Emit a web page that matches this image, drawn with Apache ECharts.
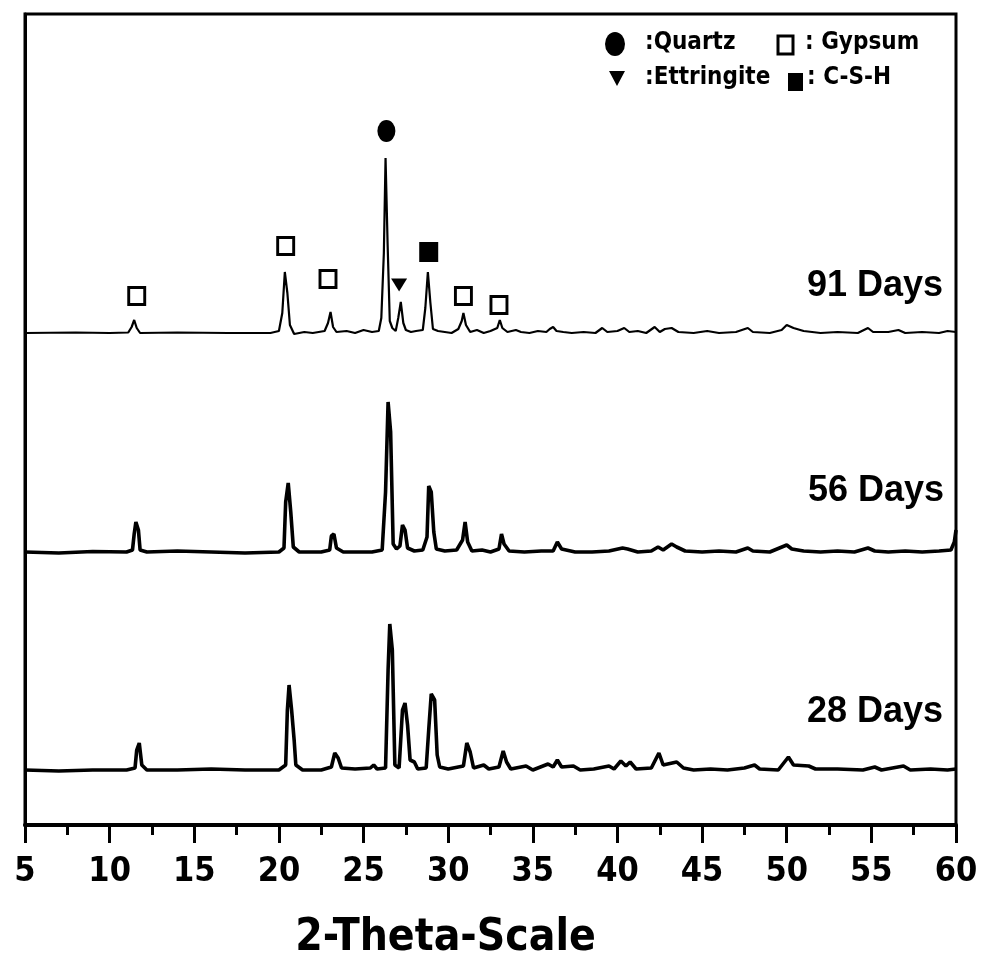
<!DOCTYPE html>
<html>
<head>
<meta charset="utf-8">
<script src="https://cdn.jsdelivr.net/npm/echarts@6/dist/echarts.min.js"></script>
<style>html,body{margin:0;padding:0;background:#fff}#c{width:981px;height:962px}</style>
</head>
<body>
<div id="c"></div>
<script>
// ---- data: [2-theta, intensity above own baseline (a.u.)] ----
const seriesNames = ['91 Days', '56 Days', '28 Days'];
const offsets = [492, 273, 55]; // vertical stacking offset of each pattern

const days91 = [[5,0],[8,0.5],[10,0],[11.1,0.5],[11.3,6],[11.45,13],[11.6,5],[11.8,0],[14,0.5],[17,0],[19.5,0],[20.0,2],[20.2,20],[20.35,61],[20.5,40],[20.65,8],[20.9,-1],[21.5,1],[22,0],[22.7,2],[22.9,10],[23.05,21],[23.2,6],[23.4,1],[24,2],[24.5,0],[25,3],[25.5,1],[25.9,2],[26.05,15],[26.2,80],[26.3,175],[26.42,90],[26.55,12],[26.7,5],[26.9,2],[27.05,15],[27.2,31],[27.35,10],[27.5,3],[27.8,1],[28.1,2],[28.5,3],[28.65,25],[28.8,61],[28.95,30],[29.1,4],[29.4,2],[29.8,1],[30.2,0],[30.6,4],[30.8,12],[30.9,20],[31.05,8],[31.3,1],[31.7,3],[32.1,0],[32.5,2],[32.9,5],[33.05,13],[33.2,5],[33.5,1],[34.0,3],[34.3,1],[34.8,0],[35.3,2],[35.8,1],[36.0,4],[36.2,6],[36.4,2],[36.8,1],[37.3,0],[38,1],[38.7,0],[39.1,5],[39.4,1],[40,2],[40.4,5],[40.7,1],[41.2,2],[41.7,0],[42.2,6],[42.5,1],[42.8,4],[43.2,5],[43.6,1],[44.5,0],[45.3,2],[46,0],[47,1],[47.7,5],[48,1],[49,0],[49.7,3],[50.0,8],[50.4,5],[51,2],[52,0],[53,1],[54.2,0],[54.8,5],[55.1,1],[56,1],[56.6,3],[57,0],[58,1],[59,0],[59.5,2],[60,1]];

const days56 = [[5,0],[7,-1],[9,0.5],[11,0],[11.35,2],[11.45,18],[11.55,30],[11.7,22],[11.8,2],[12.2,0],[14,1],[16,0],[18,-1],[20,0],[20.3,4],[20.4,50],[20.55,69],[20.7,40],[20.85,5],[21.2,0],[22.5,0],[23.0,2],[23.1,16],[23.25,18],[23.4,4],[23.8,0],[25.5,0],[26.1,2],[26.3,60],[26.45,150],[26.6,120],[26.75,8],[26.95,3],[27.15,6],[27.3,27],[27.45,22],[27.6,4],[28.0,1],[28.5,2],[28.75,15],[28.85,66],[29.0,60],[29.15,20],[29.3,3],[29.8,1],[30.5,2],[30.85,12],[31.0,30],[31.15,10],[31.4,1],[32,2],[32.5,0],[33.0,3],[33.15,18],[33.3,8],[33.6,1],[34.5,0],[35.5,1],[36.2,1],[36.45,10],[36.7,3],[37.5,0],[38.5,0],[39.5,1],[40.3,4],[40.6,3],[41.2,0],[42,1],[42.4,5],[42.7,2],[43.2,8],[43.5,5],[44,1],[45,0],[46,1],[47,0],[47.7,4],[48,1],[49,0],[50.0,7],[50.3,3],[51,1],[52,0],[53,1],[54,0],[54.8,4],[55.2,1],[56,0],[57,1],[58,0],[59,1],[59.7,2],[59.9,10],[60,22]];

const days28 = [[5,0],[7,-1],[9,0],[11,0],[11.5,2],[11.6,20],[11.75,27],[11.9,5],[12.2,0],[14,0],[16,1],[18,0],[20,0],[20.4,5],[20.5,60],[20.6,85],[20.75,60],[20.9,30],[21.0,5],[21.4,0],[22.5,0],[23.1,3],[23.3,17],[23.5,12],[23.7,2],[24.5,1],[25.4,2],[25.6,5],[25.8,1],[26.3,2],[26.45,100],[26.55,146],[26.7,120],[26.85,5],[27.1,2],[27.3,60],[27.45,67],[27.6,45],[27.75,10],[28.0,8],[28.2,1],[28.7,2],[28.85,40],[29.0,76],[29.2,70],[29.35,15],[29.5,3],[30,1],[30.9,4],[31.1,27],[31.3,18],[31.5,2],[32.1,5],[32.4,1],[33.0,3],[33.25,19],[33.45,8],[33.7,1],[34.6,4],[35,0],[35.9,6],[36.2,3],[36.45,10],[36.7,3],[37.4,4],[37.8,0],[38.6,1],[39.5,4],[39.8,1],[40.2,9],[40.5,4],[40.75,8],[41.1,1],[42.0,2],[42.45,17],[42.7,5],[43.5,8],[43.9,2],[44.5,0],[45.5,1],[46.5,0],[47.5,2],[48.1,5],[48.4,1],[49.5,0],[50.1,13],[50.4,5],[51.3,4],[51.7,1],[53,1],[54.5,0],[55.2,3],[55.6,0],[56.9,4],[57.3,0],[58.5,1],[59.5,0],[60,1]];

// phase markers over the 91-day pattern: [2-theta, height above its baseline]
const quartzMarks = [[26.35, 202]];
const gypsumMarks = [[11.6, 37], [20.4, 87], [22.9, 54], [30.9, 37], [33.0, 28]];
const ettringiteMarks = [[27.1, 48]];
const cshMarks = [[28.85, 81]];

const xTicks = {min: 5, max: 60, interval: 5};
const legendItems = ['Quartz', 'Gypsum', 'Ettringite', 'C-S-H'];

// ---- chart ----
const NARROW = "'Liberation Sans Narrow','DejaVu Sans Condensed','Arial Narrow',sans-serif";
const shift = (arr, off) => arr.map(p => [p[0], p[1] + off]);
const patterns = [days91, days56, days28];
const widths = [2.2, 3.6, 3.6];

const series = patterns.map((d, i) => ({
  name: seriesNames[i], type: 'line', data: shift(d, offsets[i]),
  showSymbol: false, symbol: 'none', smooth: false, silent: true,
  lineStyle: {color: '#000', width: widths[i]}, z: 3
}));

series.push({type: 'scatter', name: legendItems[0], data: shift(quartzMarks, offsets[0]),
  symbol: 'circle', symbolSize: [18, 22], itemStyle: {color: '#000', opacity: 1}, z: 5});
series.push({type: 'scatter', name: legendItems[1], data: shift(gypsumMarks, offsets[0]),
  symbol: 'rect', symbolSize: [16, 17], itemStyle: {color: '#fff', borderColor: '#000', borderWidth: 3, opacity: 1}, z: 5});
series.push({type: 'scatter', name: legendItems[2], data: shift(ettringiteMarks, offsets[0]),
  symbol: 'triangle', symbolRotate: 180, symbolSize: [16, 13], itemStyle: {color: '#000', opacity: 1}, z: 5});
series.push({type: 'scatter', name: legendItems[3], data: shift(cshMarks, offsets[0]),
  symbol: 'rect', symbolSize: [19, 20], itemStyle: {color: '#000', opacity: 1}, z: 5});

const chart = echarts.init(document.getElementById('c'), null, {renderer: 'canvas'});

const legendFont = {fontFamily: NARROW, fontWeight: 'bold', fontSize: 24, fill: '#000'};
const dayFont = {fontFamily: "'Liberation Sans',Arial,sans-serif", fontWeight: 'bold', fontSize: 36, fill: '#000', align: 'right', verticalAlign: 'middle'};

chart.setOption({
  animation: false,
  backgroundColor: '#fff',
  grid: {left: 25, right: 25, top: 14, bottom: 137, show: true, borderColor: '#000', borderWidth: 3, backgroundColor: 'transparent', outerBoundsMode: 'none', containLabel: false},
  xAxis: {
    type: 'value', min: xTicks.min, max: xTicks.max, interval: xTicks.interval,
    name: '2-Theta-Scale', nameLocation: 'middle', nameGap: 92,
    nameTextStyle: {fontFamily: NARROW, fontWeight: 'bold', fontSize: 44, color: '#000', padding: [0, 90, 0, 0]},
    axisLine: {show: true, lineStyle: {color: '#000', width: 4}},
    axisTick: {show: true, length: 18, lineStyle: {color: '#000', width: 3}},
    minorTick: {show: true, splitNumber: 2, length: 10, lineStyle: {color: '#000', width: 3}},
    axisLabel: {fontFamily: NARROW, fontWeight: 'bold', fontSize: 34, color: '#000', margin: 30},
    splitLine: {show: false}
  },
  yAxis: {
    type: 'value', min: 0, max: 811,
    axisLine: {show: true, lineStyle: {color: '#000', width: 3}},
    axisTick: {show: false}, axisLabel: {show: false}, splitLine: {show: false}
  },
  series: series,
  graphic: [
    {type: 'circle', shape: {cx: 615, cy: 44, r: 10}, style: {fill: '#000'}, scaleY: 1.2, originX: 615, originY: 44},
    {type: 'text', left: 645, top: 31, style: Object.assign({text: ':Quartz'}, legendFont)},
    {type: 'rect', shape: {x: 778, y: 36, width: 15, height: 18}, style: {fill: '#fff', stroke: '#000', lineWidth: 3}},
    {type: 'text', left: 805, top: 31, style: Object.assign({text: ': Gypsum'}, legendFont)},
    {type: 'polygon', shape: {points: [[609, 71], [625, 71], [617, 86]]}, style: {fill: '#000'}},
    {type: 'text', left: 645, top: 66, style: Object.assign({text: ':Ettringite'}, legendFont)},
    {type: 'rect', shape: {x: 788, y: 73, width: 15, height: 18}, style: {fill: '#000'}},
    {type: 'text', left: 807, top: 66, style: Object.assign({text: ': C-S-H'}, legendFont)},
    {type: 'text', x: 943, y: 286, style: Object.assign({text: seriesNames[0]}, dayFont)},
    {type: 'text', x: 944, y: 491, style: Object.assign({text: seriesNames[1]}, dayFont)},
    {type: 'text', x: 943, y: 712, style: Object.assign({text: seriesNames[2]}, dayFont)}
  ]
});
</script>
</body>
</html>
